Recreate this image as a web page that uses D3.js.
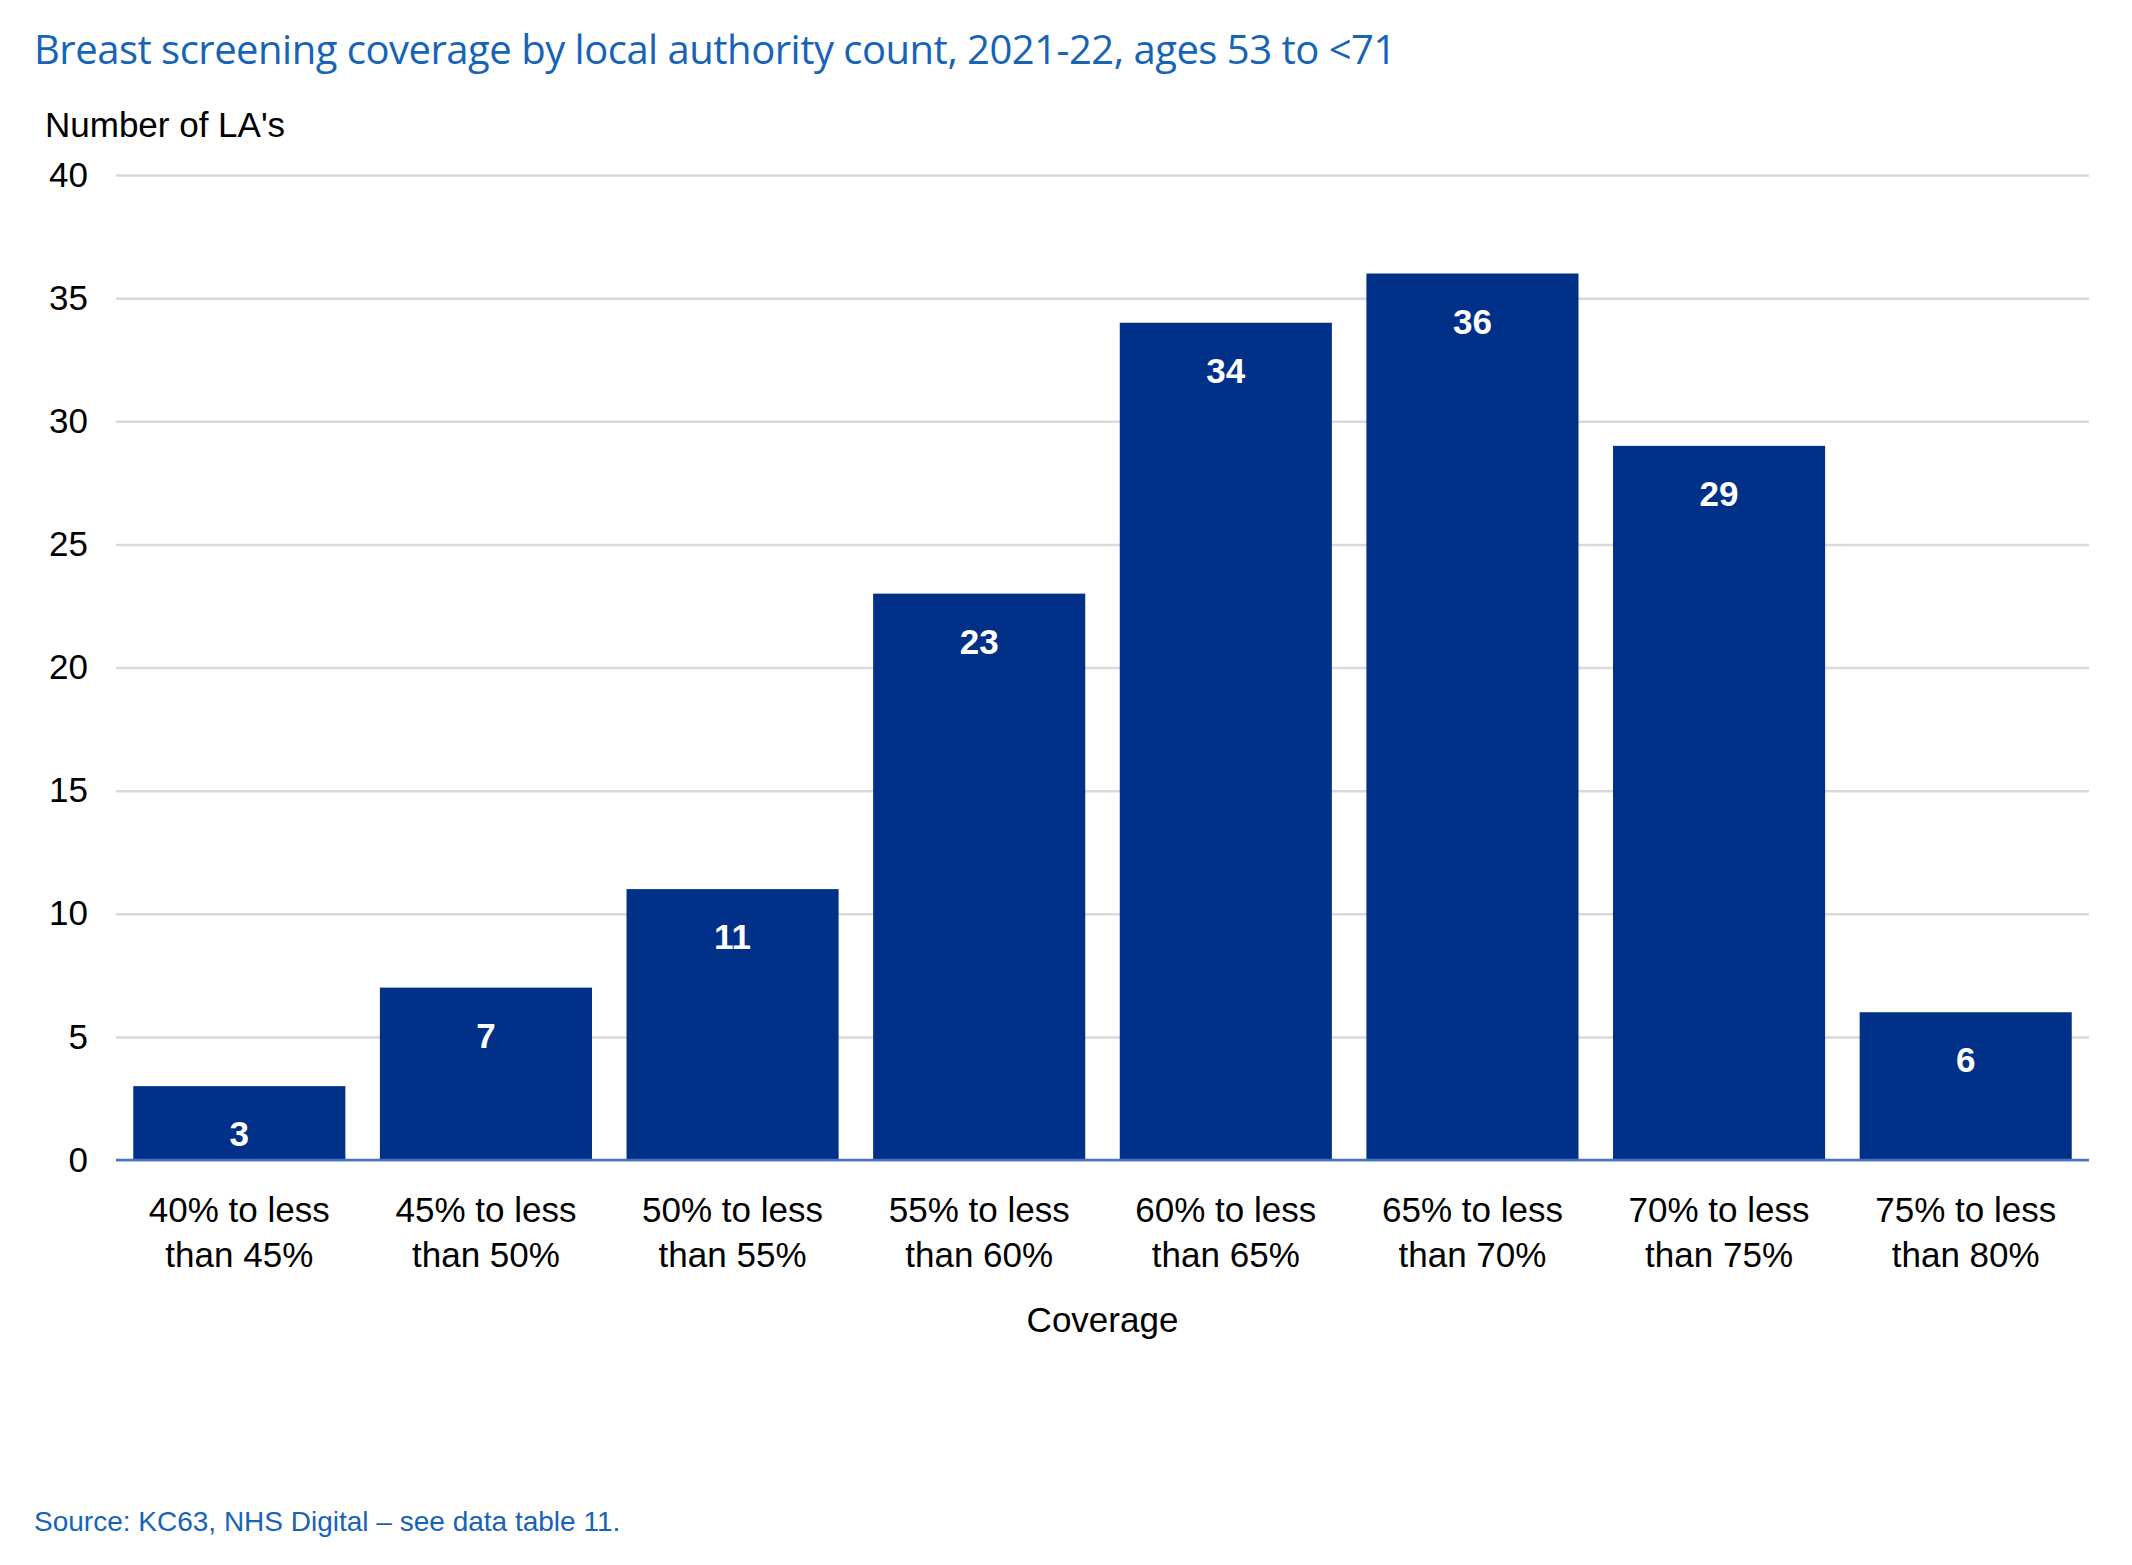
<!DOCTYPE html>
<html><head><meta charset="utf-8">
<script src="https://cdn.jsdelivr.net/npm/d3@7"></script>
<style>body{margin:0;background:#fff}</style></head>
<body><svg id="c" width="2132" height="1565"></svg>
<script>
const categories = ["40% to less|than 45%","45% to less|than 50%","50% to less|than 55%","55% to less|than 60%","60% to less|than 65%","65% to less|than 70%","70% to less|than 75%","75% to less|than 80%"];
const values = [3,7,11,23,34,36,29,6];
const yTicks = [0,5,10,15,20,25,30,35,40];

const svg = d3.select("#c");
const F = "Liberation Sans, Arial, sans-serif";
const m = {l:116, r:2089, t:175, b:1160};
const x = d3.scaleBand().domain(categories).range([m.l,m.r]).paddingInner(0.14).paddingOuter(0.07);
const y = d3.scaleLinear().domain([0,40]).range([m.b,m.t]);

svg.append("text").attr("x",34).attr("y",64).attr("fill","#1763b8")
  .style("font-family","'Open Sans', 'Noto Sans', sans-serif").style("font-size","40px").style("letter-spacing","-0.5px")
  .text("Breast screening coverage by local authority count, 2021-22, ages 53 to <71");
svg.append("text").attr("x",45).attr("y",137).style("font-family",F).style("font-size","35px").text("Number of LA's");

const ya = svg.append("g").attr("transform",`translate(${m.l},0)`)
  .call(d3.axisLeft(y).tickValues(yTicks).tickSize(-(m.r-m.l)).tickPadding(28));
ya.select(".domain").remove();
ya.selectAll("line").attr("stroke","#d9d9d9").attr("stroke-width",2.5);
ya.selectAll("text").style("font-family",F).style("font-size","35px").attr("fill","#000");

svg.selectAll("rect.b").data(values).join("rect").attr("class","b")
  .attr("x",(d,i)=>x(categories[i])).attr("width",x.bandwidth())
  .attr("y",d=>y(d)).attr("height",d=>y(0)-y(d)).attr("fill","#003087");
svg.selectAll("text.v").data(values).join("text").attr("class","v")
  .attr("x",(d,i)=>x(categories[i])+x.bandwidth()/2).attr("y",d=>y(d)+60)
  .attr("text-anchor","middle").attr("fill","#fff").style("font-family",F)
  .style("font-size","35px").style("font-weight","bold").text(d=>d);

svg.append("line").attr("x1",m.l).attr("x2",m.r).attr("y1",m.b).attr("y2",m.b).attr("stroke","#4472c4").attr("stroke-width",2.5);

categories.forEach(c=>{
  const t = svg.append("text").attr("text-anchor","middle").style("font-family",F).style("font-size","35px");
  c.split("|").forEach((s,k)=>t.append("tspan").attr("x",x(c)+x.bandwidth()/2).attr("y",1222+k*45).text(s));
});
svg.append("text").attr("x",(m.l+m.r)/2).attr("y",1332).attr("text-anchor","middle").style("font-family",F).style("font-size","35px").text("Coverage");
svg.append("text").attr("x",34).attr("y",1531).attr("fill","#1763b8").style("font-family",F).style("font-size","28px").text("Source: KC63, NHS Digital – see data table 11.");
</script></body></html>
